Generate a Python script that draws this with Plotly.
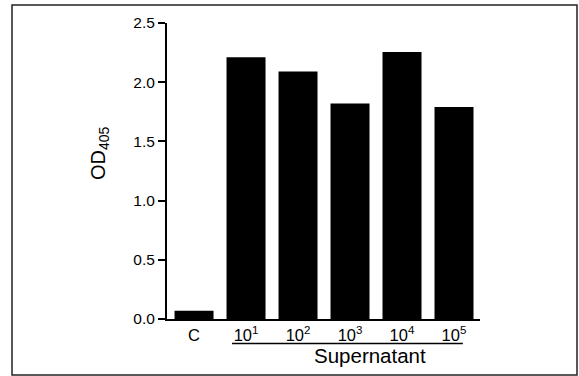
import plotly.graph_objects as go

categories = ["C", "10<sup>1</sup>", "10<sup>2</sup>", "10<sup>3</sup>", "10<sup>4</sup>", "10<sup>5</sup>"]
od405 = [0.07, 2.21, 2.09, 1.82, 2.255, 1.79]
y_ticks = [0.0, 0.5, 1.0, 1.5, 2.0, 2.5]
group_label = "Supernatant"

FONT = "Liberation Sans, Arial, Helvetica, sans-serif"
W, H = 579, 376
L, R, T, B = 167, 99, 23, 57
pw, ph = W - L - R, H - T - B

def px_x(p):
    return (p - L) / pw

def px_y(p):
    return (H - B - p) / ph

xidx = list(range(len(categories)))

fig = go.Figure(go.Bar(
    x=xidx, y=od405, marker=dict(color="black", line=dict(width=0)),
    hoverinfo="skip",
))

fig.update_layout(
    width=W, height=H,
    margin=dict(l=L, r=R, t=T, b=B),
    paper_bgcolor="white", plot_bgcolor="white",
    bargap=0.25, showlegend=False,
    font=dict(family=FONT, size=16, color="black"),
    xaxis=dict(
        range=[-0.52, 5.5], tickmode="array", tickvals=xidx, ticktext=categories,
        showgrid=False, zeroline=False, showline=True, linecolor="black", linewidth=2,
        ticks="", tickfont=dict(size=16.5),
    ),
    yaxis=dict(
        range=[0, 2.5], tickmode="array", tickvals=y_ticks,
        ticktext=[f"{v:.1f}" for v in y_ticks],
        showgrid=False, zeroline=False, showline=True, linecolor="black", linewidth=2,
        ticks="outside", ticklen=7, tickwidth=2, tickcolor="black",
        tickfont=dict(size=15.5),
    ),
)

# y-axis title
fig.add_annotation(
    text="OD<sub>405</sub>", xref="paper", yref="paper",
    x=px_x(99), y=px_y(153), textangle=-90, showarrow=False,
    font=dict(size=20), xanchor="center", yanchor="middle",
)

# group label + underline
fig.add_shape(
    type="line", xref="x", yref="paper",
    x0=1 - 0.27, x1=5 + 0.17, y0=px_y(343.5), y1=px_y(343.5),
    line=dict(color="black", width=1.5),
)
fig.add_annotation(
    text=group_label, xref="paper", yref="paper",
    x=px_x(370), y=px_y(355), showarrow=False, font=dict(size=20.5),
    xanchor="center", yanchor="middle",
)

# outer frame
fig.add_shape(
    type="rect", xref="paper", yref="paper",
    x0=px_x(12), x1=px_x(577), y0=px_y(375), y1=px_y(5),
    line=dict(color="#222222", width=1.5), fillcolor="rgba(0,0,0,0)",
)

fig.write_html("out.html")
